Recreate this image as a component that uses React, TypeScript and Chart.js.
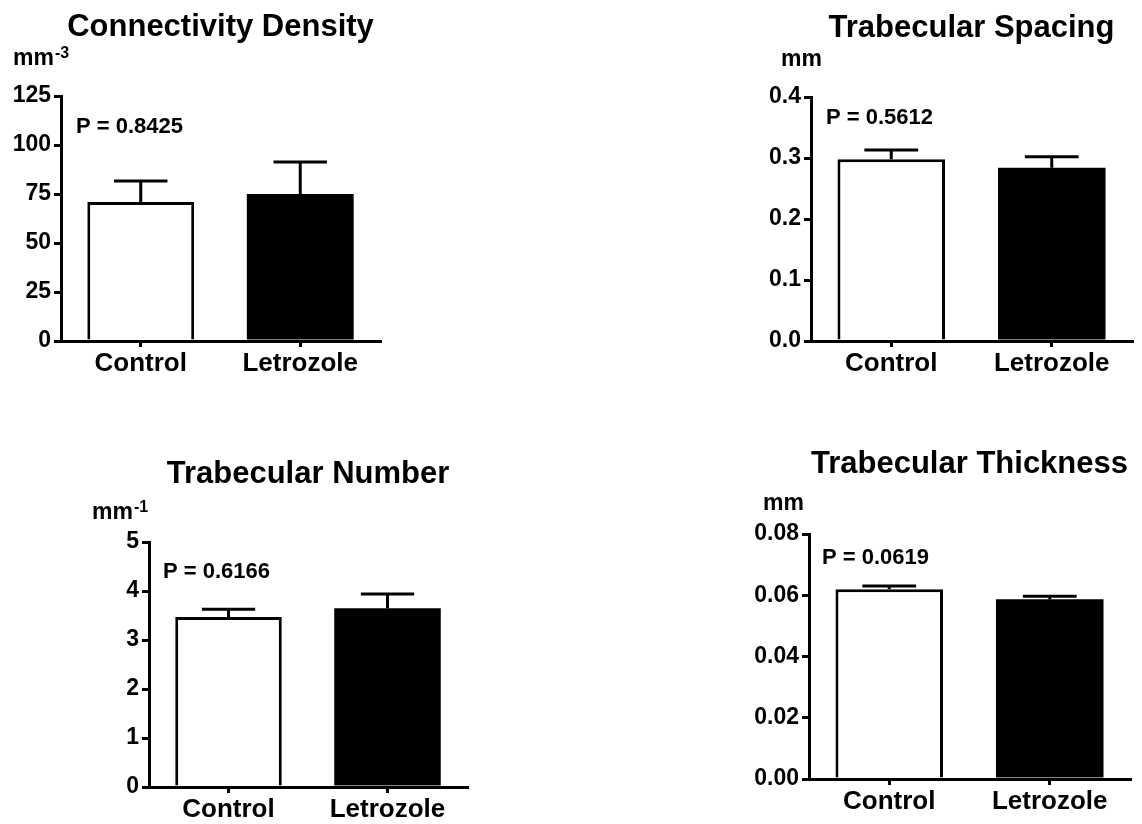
import React, { useEffect, useRef } from 'react';
import { Chart, registerables } from 'chart.js';

Chart.register(...registerables);

const FONT = '"Liberation Sans", Arial, Helvetica, sans-serif';

// ---------- data ----------
const categories = ['Control', 'Letrozole'];

const connDensityMean = [70.9, 75.0];
const connDensitySem = [10.7, 16.3];
const connDensityTicks = [0, 25, 50, 75, 100, 125];

const spacingMean = [0.298, 0.284];
const spacingSem = [0.015, 0.018];
const spacingTicks = [0, 0.1, 0.2, 0.3, 0.4];

const numberMean = [3.47, 3.65];
const numberSem = [0.16, 0.29];
const numberTicks = [0, 1, 2, 3, 4, 5];

const thicknessMean = [0.062, 0.0587];
const thicknessSem = [0.001, 0.001];
const thicknessTicks = [0, 0.02, 0.04, 0.06, 0.08];

const titles = ['Connectivity Density', 'Trabecular Spacing', 'Trabecular Number', 'Trabecular Thickness'];
const unitBases = ['mm', 'mm', 'mm', 'mm'];
const unitSups = ['-3', '', '-1', ''];
const pLabels = ['P = 0.8425', 'P = 0.5612', 'P = 0.6166', 'P = 0.0619'];
const tickDecimals = [0, 1, 0, 2];

const panelMeans = [connDensityMean, spacingMean, numberMean, thicknessMean];
const panelSems = [connDensitySem, spacingSem, numberSem, thicknessSem];
const panelTicks = [connDensityTicks, spacingTicks, numberTicks, thicknessTicks];

// ---------- layout ----------
type Layout = {
  left: number; top: number; width: number; height: number;
  axisW: number; axisH: number; padTop: number; padRight: number;
  titleDy: number; unitDx: number; unitDy: number; pDx: number; pDy: number;
};

const layouts: Layout[] = [
  { left: 0, top: 0, width: 400, height: 400, axisW: 61, axisH: 59, padTop: 96, padRight: 20, titleDy: -60, unitDx: -48, unitDy: -31, pDx: 15, pDy: 37 },
  { left: 740, top: 0, width: 402, height: 400, axisW: 71, axisH: 59, padTop: 97, padRight: 10, titleDy: -60, unitDx: -30, unitDy: -31, pDx: 15, pDy: 27 },
  { left: 70, top: 440, width: 420, height: 384, axisW: 79, axisH: 37, padTop: 102, padRight: 23, titleDy: -59, unitDx: -57, unitDy: -23, pDx: 14, pDy: 36 },
  { left: 740, top: 440, width: 402, height: 384, axisW: 69, axisH: 45, padTop: 94, padRight: 12, titleDy: -61, unitDx: -46, unitDy: -24, pDx: 13, pDy: 30 },
];

const annotPlugin = {
  id: 'annot',
  afterDatasetsDraw(chart: any, _args: any, opts: any) {
    const { ctx } = chart;
    const yScale = chart.scales.y;
    const meta = chart.getDatasetMeta(0);
    const means = chart.data.datasets[0].data as number[];
    const sems = opts.sem as number[];
    ctx.save();
    ctx.strokeStyle = '#000';
    ctx.lineWidth = 3;
    ctx.lineCap = 'butt';
    meta.data.forEach((bar: any, i: number) => {
      const x = bar.x;
      const y0 = yScale.getPixelForValue(means[i]);
      const y1 = yScale.getPixelForValue(means[i] + sems[i]);
      const half = bar.width * 0.25;
      ctx.beginPath();
      ctx.moveTo(x, y0);
      ctx.lineTo(x, y1);
      ctx.moveTo(x - half, y1);
      ctx.lineTo(x + half, y1);
      ctx.stroke();
    });
    ctx.restore();
  },
  afterDraw(chart: any, _args: any, opts: any) {
    const { ctx, chartArea } = chart;
    const L: Layout = opts.layout;
    ctx.save();
    ctx.fillStyle = '#000';
    ctx.textBaseline = 'alphabetic';
    // title
    ctx.font = `bold 31px ${FONT}`;
    ctx.textAlign = 'center';
    ctx.fillText(opts.title, (chartArea.left + chartArea.right) / 2, chartArea.top + L.titleDy);
    // unit
    ctx.textAlign = 'left';
    ctx.font = `bold 23px ${FONT}`;
    const ux = chartArea.left + L.unitDx;
    const uy = chartArea.top + L.unitDy;
    ctx.fillText(opts.unit, ux, uy);
    if (opts.sup) {
      const w = ctx.measureText(opts.unit).width;
      ctx.font = `bold 16px ${FONT}`;
      ctx.fillText(opts.sup, ux + w + 1, uy - 7);
    }
    // P value
    ctx.font = `bold 22px ${FONT}`;
    ctx.fillText(opts.p, chartArea.left + L.pDx, chartArea.top + L.pDy);
    ctx.restore();
  },
};

function Panel({ idx }: { idx: number }) {
  const ref = useRef<HTMLCanvasElement | null>(null);
  const L = layouts[idx];
  useEffect(() => {
    if (!ref.current) return;
    const ticks = panelTicks[idx];
    const dec = tickDecimals[idx];
    const chart = new Chart(ref.current, {
      type: 'bar',
      data: {
        labels: categories,
        datasets: [
          {
            data: panelMeans[idx],
            backgroundColor: ['#ffffff', '#000000'],
            borderColor: '#000000',
            borderWidth: [3, 0],
            borderSkipped: 'start',
            barPercentage: 0.67,
            categoryPercentage: 1,
          },
        ],
      },
      options: {
        responsive: false,
        animation: false,
        events: [],
        layout: { padding: { top: L.padTop, right: L.padRight, left: 0, bottom: 0 } },
        plugins: {
          legend: { display: false },
          tooltip: { enabled: false },
          title: { display: false },
          annot: {
            sem: panelSems[idx],
            layout: L,
            title: titles[idx],
            unit: unitBases[idx],
            sup: unitSups[idx],
            p: pLabels[idx],
          },
        } as any,
        scales: {
          x: {
            type: 'category',
            offset: true,
            grid: {
              display: true,
              drawOnChartArea: false,
              drawTicks: true,
              offset: false,
              tickLength: 6,
              color: '#000',
              lineWidth: 3,
            },
            border: { display: true, color: '#000', width: 3 },
            ticks: {
              color: '#000',
              font: { family: FONT, size: 26, weight: 'bold' },
              padding: 1,
              maxRotation: 0,
              autoSkip: false,
            },
            afterFit: (s: any) => {
              s.height = L.axisH;
            },
          },
          y: {
            type: 'linear',
            min: ticks[0],
            max: ticks[ticks.length - 1],
            afterBuildTicks: (s: any) => {
              s.ticks = ticks.map((v) => ({ value: v }));
            },
            grid: {
              display: true,
              drawOnChartArea: false,
              drawTicks: true,
              tickLength: 7,
              color: '#000',
              lineWidth: 3,
            },
            border: { display: true, color: '#000', width: 3 },
            ticks: {
              color: '#000',
              font: { family: FONT, size: 23, weight: 'bold' },
              padding: 3,
              callback: (v: any) => Number(v).toFixed(dec),
            },
            afterFit: (s: any) => {
              s.width = L.axisW;
            },
          },
        },
      } as any,
      plugins: [annotPlugin],
    });
    return () => chart.destroy();
  }, [idx]);
  return (
    <canvas
      ref={ref}
      width={L.width}
      height={L.height}
      style={{ position: 'absolute', left: L.left, top: L.top, width: L.width, height: L.height, display: 'block' }}
    />
  );
}

export default function App() {
  return (
    <div style={{ position: 'absolute', left: 0, top: 0, width: 1142, height: 824, background: '#fff', overflow: 'hidden' }}>
      {layouts.map((_, i) => (
        <Panel key={i} idx={i} />
      ))}
    </div>
  );
}
